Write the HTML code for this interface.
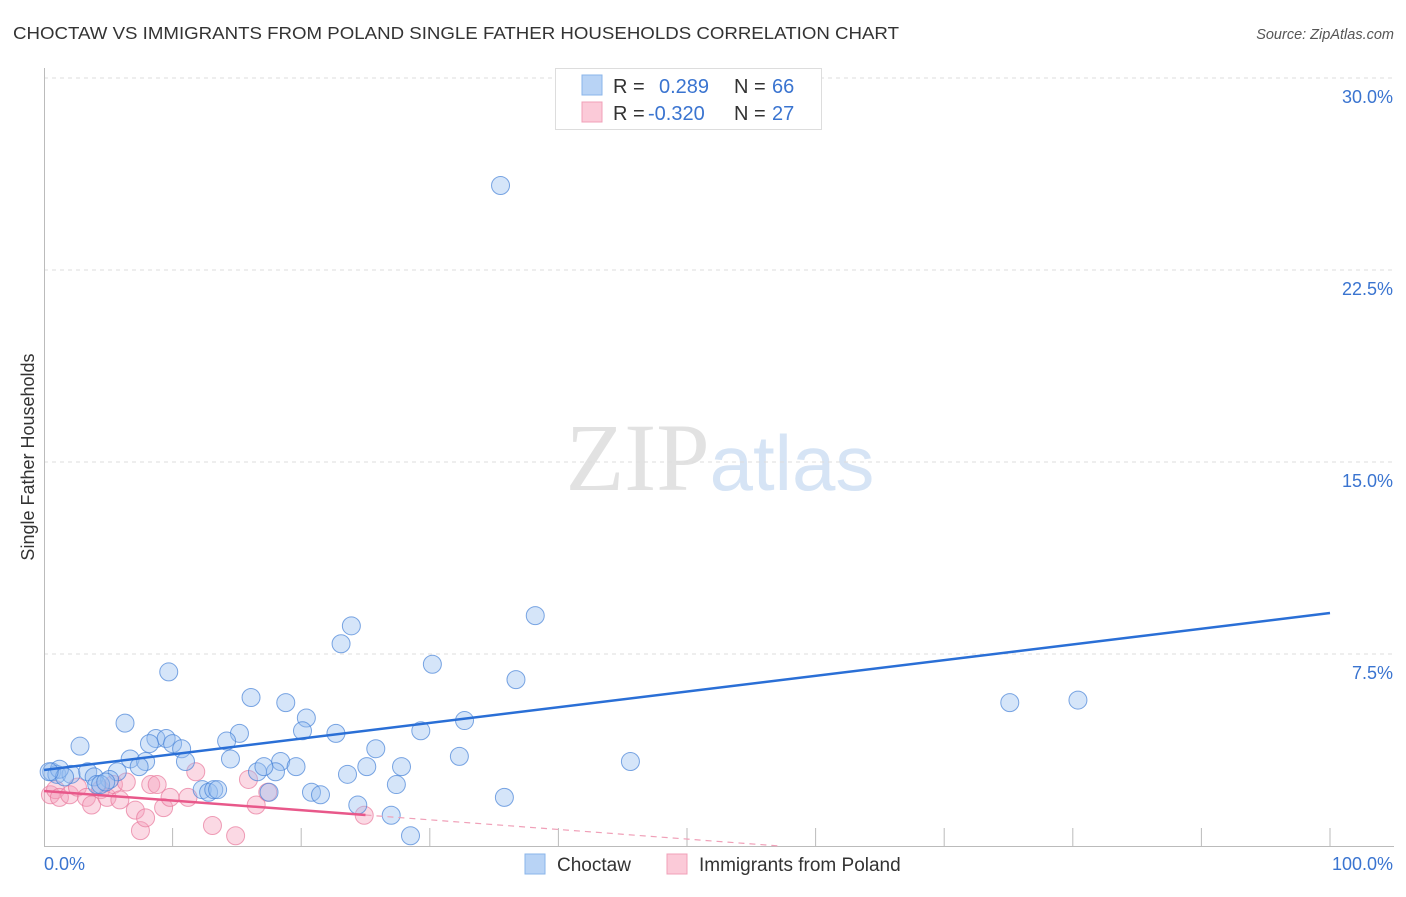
<!DOCTYPE html>
<html><head><meta charset="utf-8"><style>
body{margin:0;background:#fff;font-family:"Liberation Sans",sans-serif;}
svg text{font-family:"Liberation Sans",sans-serif;}
</style></head><body>
<svg id="chart" width="1406" height="892" xmlns="http://www.w3.org/2000/svg">
<text x="13" y="39" font-size="17.5" fill="#333" textLength="886" lengthAdjust="spacingAndGlyphs">CHOCTAW VS IMMIGRANTS FROM POLAND SINGLE FATHER HOUSEHOLDS CORRELATION CHART</text>
<text x="1394" y="39" font-size="14.5" fill="#555" text-anchor="end" font-style="italic">Source: ZipAtlas.com</text>
<text x="720" y="490" font-size="96" text-anchor="middle"><tspan fill="#e2e2e2" font-family="Liberation Serif">ZIP</tspan><tspan fill="#d6e4f5" font-size="78">atlas</tspan></text>
<g id="grid"></g>
<g id="axes"></g>
<text transform="translate(34,457) rotate(-90)" font-size="18" fill="#333" text-anchor="middle">Single Father Households</text>
<g id="pts"></g>
<g id="lines"></g>
<g>
<rect x="555.5" y="68.5" width="266" height="61" fill="#fff" stroke="#ddd"/>
<rect x="582" y="75" width="20" height="20" fill="#b8d3f5" stroke="#8ab4ea"/>
<rect x="582" y="102" width="20" height="20" fill="#fbcad8" stroke="#f0a0b8"/>
<text x="613" y="93" font-size="20" fill="#333">R =</text>
<text x="659" y="93" font-size="20" fill="#3a74d0">0.289</text>
<text x="734" y="93" font-size="20" fill="#333">N =</text>
<text x="772" y="93" font-size="20" fill="#3a74d0">66</text>
<text x="613" y="120" font-size="20" fill="#333">R =</text>
<text x="648" y="120" font-size="20" fill="#3a74d0">-0.320</text>
<text x="734" y="120" font-size="20" fill="#333">N =</text>
<text x="772" y="120" font-size="20" fill="#3a74d0">27</text>
</g>
<g>
<rect x="525" y="854" width="20" height="20" fill="#b8d3f5" stroke="#8ab4ea"/>
<text x="557" y="871" font-size="19" fill="#333">Choctaw</text>
<rect x="667" y="854" width="20" height="20" fill="#fbcad8" stroke="#f0a0b8"/>
<text x="699" y="871" font-size="19" fill="#333">Immigrants from Poland</text>
</g>
</svg>
<script>
const yTicks=[7.5,15,22.5,30];
const yTickLabels=["7.5%","15.0%","22.5%","30.0%"];
const xEndLabels=["0.0%","100.0%"];
const choctawX=[35.5,38.2,23.9,23.1,30.2,9.7,36.7,16.1,18.8,75.1,80.4,20.4,6.3,32.7,29.3,20.1,15.2,22.7,8.7,9.5,8.2,10.0,14.2,2.8,10.7,25.8,6.7,7.9,11.0,14.5,18.4,32.3,45.6,0.6,1.0,2.1,3.4,3.9,5.7,7.4,16.6,18.0,17.1,19.6,25.1,27.8,23.6,5.1,4.1,4.4,12.3,12.8,13.2,13.5,20.8,21.5,17.5,27.4,35.8,24.4,27.0,28.5,1.2,1.6,0.4,4.8];
const choctawY=[25.8,9.0,8.6,7.9,7.1,6.8,6.5,5.8,5.6,5.6,5.7,5.0,4.8,4.9,4.5,4.5,4.4,4.4,4.2,4.2,4.0,4.0,4.1,3.9,3.8,3.8,3.4,3.3,3.3,3.4,3.3,3.5,3.3,2.9,2.8,2.8,2.9,2.7,2.9,3.1,2.9,2.9,3.1,3.1,3.1,3.1,2.8,2.6,2.4,2.4,2.2,2.1,2.2,2.2,2.1,2.0,2.1,2.4,1.9,1.6,1.2,0.4,3.0,2.7,2.9,2.5];
const polandX=[0.5,0.9,1.2,2.0,2.6,3.3,3.7,4.4,4.9,5.4,5.9,6.4,7.1,7.5,7.9,8.3,8.8,9.3,9.8,11.2,11.8,13.1,14.9,15.9,16.5,17.4,24.9];
const polandY=[2.0,2.2,1.9,2.0,2.3,1.9,1.6,2.2,1.9,2.4,1.8,2.5,1.4,0.6,1.1,2.4,2.4,1.5,1.9,1.9,2.9,0.8,0.4,2.6,1.6,2.1,1.2];
const trendBlue=[2.97,9.10];   // value at x=0, x=100
const trendPink=[2.15,-0.0376]; // intercept, slope
const X=v=>44+v*12.86, Y=v=>846-v*25.6;
const NS="http://www.w3.org/2000/svg";
function mk(tag,attrs,parent){const e=document.createElementNS(NS,tag);for(const k in attrs)e.setAttribute(k,attrs[k]);parent.appendChild(e);return e;}
const grid=document.getElementById('grid'),axes=document.getElementById('axes');
yTicks.forEach((t,i)=>{
 const l=mk('line',{x1:44,x2:1394,y1:Y(t),y2:Y(t),stroke:'#ddd','stroke-dasharray':'4,4'},grid);
 
 
 const tx=mk('text',{x:1393,y:Y(t)+25,'font-size':18,fill:'#3a74d0','text-anchor':'end'},axes);
 tx.textContent=yTickLabels[i];
 
 
});
const ax=mk('path',{d:'M44.5 68 V846.5 H1394',stroke:'#bbb',fill:'none'},axes);


for(let i=1;i<=10;i++){
 const t=mk('line',{x1:X(i*10),x2:X(i*10),y1:828,y2:846,stroke:'#bbb'},axes);
 
 
}
const xl0=mk('text',{x:44,y:870,'font-size':18,fill:'#3a74d0'},axes);xl0.textContent=xEndLabels[0];


const xl1=mk('text',{x:1393,y:870,'font-size':18,fill:'#3a74d0','text-anchor':'end'},axes);xl1.textContent=xEndLabels[1];


const pts=document.getElementById('pts');
polandX.forEach((x,i)=>{
 const c=mk('circle',{cx:X(x),cy:Y(polandY[i]),r:9,fill:'rgba(246,160,188,0.4)',stroke:'rgba(232,120,155,0.7)','stroke-width':1},pts);
 
 
});
choctawX.forEach((x,i)=>{
 const c=mk('circle',{cx:X(x),cy:Y(choctawY[i]),r:9,fill:'rgba(150,190,240,0.4)',stroke:'rgba(70,130,215,0.7)','stroke-width':1},pts);
 
 
});
const lines=document.getElementById('lines');
const bl=mk('line',{x1:X(0),y1:Y(trendBlue[0]),x2:X(100),y2:Y(trendBlue[1]),stroke:'#2a6fd6','stroke-width':2.5},lines);


const pe=25, pz=-trendPink[0]/trendPink[1];
const pl=mk('line',{x1:X(0),y1:Y(trendPink[0]),x2:X(pe),y2:Y(trendPink[0]+trendPink[1]*pe),stroke:'#e8588a','stroke-width':2.5},lines);


const pd=mk('line',{x1:X(pe),y1:Y(trendPink[0]+trendPink[1]*pe),x2:X(pz),y2:Y(0),stroke:'#f0a0b8','stroke-width':1.2,'stroke-dasharray':'6,5'},lines);


</script>
</body></html>
